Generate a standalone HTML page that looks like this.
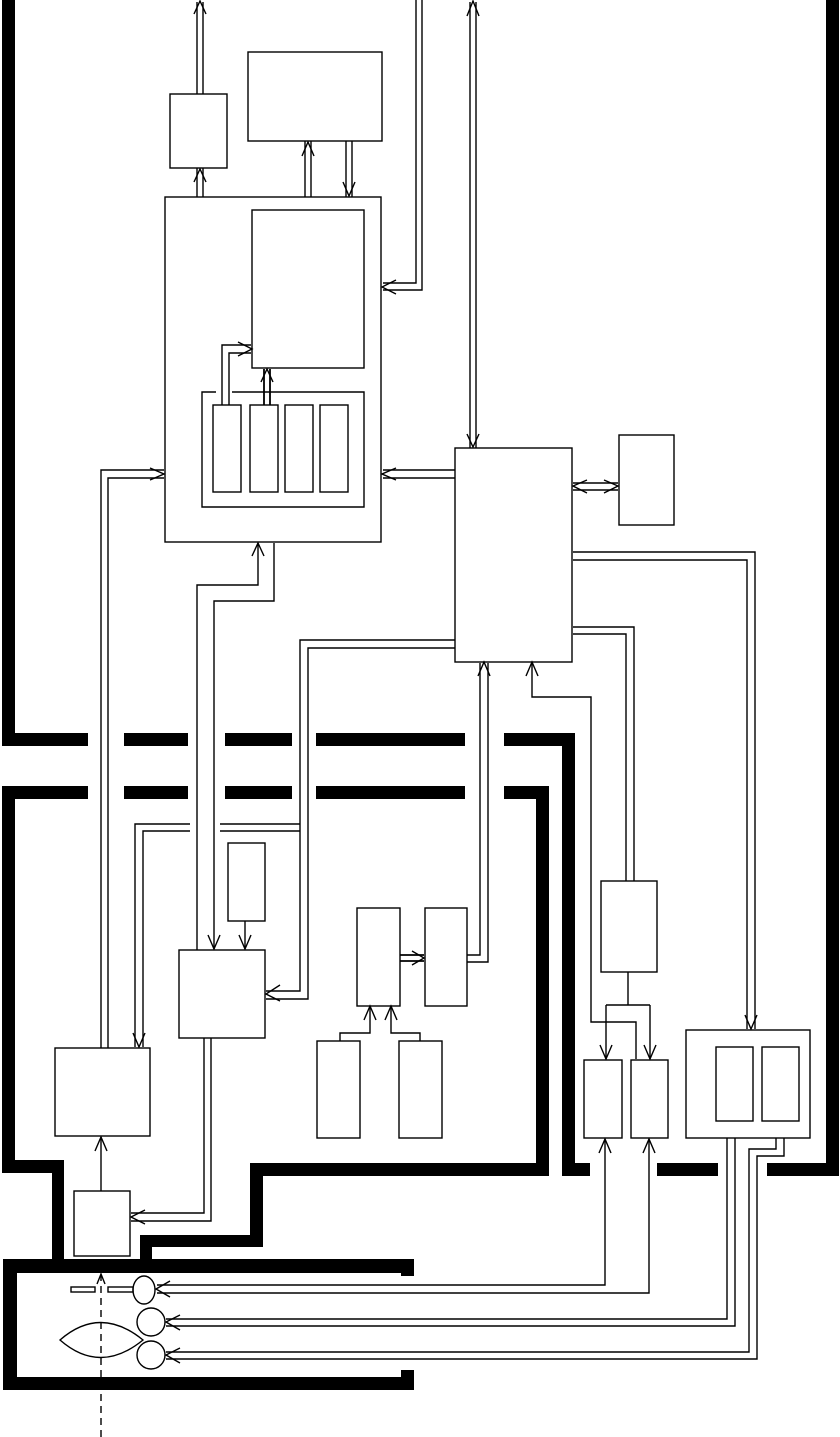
<!DOCTYPE html>
<html><head><meta charset="utf-8"><style>html,body{margin:0;padding:0;background:#fff}svg{display:block}</style></head>
<body>
<svg width="840" height="1437" viewBox="0 0 840 1437" xmlns="http://www.w3.org/2000/svg">
<g fill="#000" stroke="none">
<rect x="2" y="0" width="13" height="746"/>
<rect x="2" y="733" width="86" height="13"/>
<rect x="124" y="733" width="64" height="13"/>
<rect x="225" y="733" width="67" height="13"/>
<rect x="316" y="733" width="149" height="13"/>
<rect x="504" y="733" width="71" height="13"/>
<rect x="562" y="733" width="13" height="443"/>
<rect x="562" y="1163" width="28" height="13"/>
<rect x="657" y="1163" width="61" height="13"/>
<rect x="767" y="1163" width="72" height="13"/>
<rect x="826" y="0" width="13" height="1176"/>
<rect x="2" y="786" width="86" height="13"/>
<rect x="124" y="786" width="64" height="13"/>
<rect x="225" y="786" width="67" height="13"/>
<rect x="316" y="786" width="149" height="13"/>
<rect x="504" y="786" width="45" height="13"/>
<rect x="536" y="786" width="13" height="390"/>
<rect x="250" y="1163" width="299" height="13"/>
<rect x="250" y="1163" width="13" height="84"/>
<rect x="140" y="1235" width="123" height="12"/>
<rect x="140" y="1235" width="12" height="30"/>
<rect x="2" y="786" width="13" height="387"/>
<rect x="2" y="1160" width="62" height="13"/>
<rect x="52" y="1160" width="12" height="105"/>
<rect x="3" y="1259" width="411" height="14"/>
<rect x="401" y="1259" width="13" height="17"/>
<rect x="3" y="1259" width="14" height="131"/>
<rect x="3" y="1377" width="411" height="13"/>
<rect x="401" y="1370" width="13" height="20"/>
</g>
<g fill="none" stroke="#000" stroke-width="1.4">
<rect x="170" y="94" width="57" height="74"/>
<rect x="248" y="52" width="134" height="89"/>
<rect x="165" y="197" width="216" height="345"/>
<rect x="252" y="210" width="112" height="158"/>
<path d="M216,392 H202 V507 H364 V392 H232"/>
<rect x="213" y="405" width="28" height="87"/>
<rect x="250" y="405" width="28" height="87"/>
<rect x="285" y="405" width="28" height="87"/>
<rect x="320" y="405" width="28" height="87"/>
<rect x="455" y="448" width="117" height="214"/>
<rect x="619" y="435" width="55" height="90"/>
<rect x="228" y="843" width="37" height="78"/>
<rect x="179" y="950" width="86" height="88"/>
<rect x="357" y="908" width="43" height="98"/>
<rect x="425" y="908" width="42" height="98"/>
<rect x="317" y="1041" width="43" height="97"/>
<rect x="399" y="1041" width="43" height="97"/>
<rect x="601" y="881" width="56" height="91"/>
<rect x="584" y="1060" width="38" height="78"/>
<rect x="631" y="1060" width="37" height="78"/>
<rect x="686" y="1030" width="124" height="108"/>
<rect x="716" y="1047" width="37" height="74"/>
<rect x="762" y="1047" width="37" height="74"/>
<rect x="55" y="1048" width="95" height="88"/>
<rect x="74" y="1191" width="56" height="65"/>

<path d="M197,94 V2 M203,94 V2"/><path d="M194,14 L200,1 L206,14"/>
<path d="M197,197 V168 M203,197 V168"/><path d="M194,182 L200,169 L206,182"/>
<path d="M305,197 V141 M311,197 V141"/><path d="M302,156 L308,142 L314,156"/>
<path d="M346,141 V197 M352,141 V197"/><path d="M343,182 L349,196 L355,182"/>
<path d="M416,0 V283 H383 M422,0 V290 H383"/><path d="M396,280 L382,287 L396,294"/>
<path d="M470,2 V448 M476,2 V448"/><path d="M467,16 L473,1 L479,16 M467,434 L473,447 L479,434"/>
<path d="M455,470 H383 M455,478 H383"/><path d="M396,468 L382,474 L396,480"/>
<path d="M573,483 H618 M573,490 H618"/><path d="M587,480 L573,486 L587,493 M604,480 L618,486 L604,493"/>
<path d="M101,1048 V470 H164 M108,1048 V478 H164"/><path d="M150,468 L164,474 L150,480"/>
<path d="M258,543 V585 H197 V950 M274,543 V601 H214 V949"/><path d="M252,556 L258,543 L264,556"/><path d="M208,935 L214,949 L220,935"/>
<path d="M245,921 V949"/><path d="M239,935 L245,949 L251,935"/>
<path d="M455,640 H300 V991 H266 M455,648 H308 V999 H266"/><path d="M280,985 L266,994 L280,1001"/>
<path d="M300,824 H220 M190,824 H135 V1047 M300,831 H220 M190,831 H143 V1047"/><path d="M133,1033 L139,1047 L145,1033"/>
<path d="M400,955 H424 M400,961 H424" stroke-width="1.8"/><path d="M412,951 L424,958 L412,965"/>
<path d="M467,955 H480 V663 M467,962 H488 V663"/><path d="M478,676 L484,662 L490,676"/>
<path d="M340,1041 V1033 H370 V1007 M420,1041 V1033 H391 V1007"/><path d="M364,1020 L370,1006 L376,1020 M385,1020 L391,1006 L397,1020"/>
<path d="M532,663 V697 H591 V1022 H636 V1059"/><path d="M526,676 L532,662 L538,676"/>
<path d="M628,972 V1005 M606,1005 H650 M606,1005 V1059 M650,1005 V1059"/><path d="M600,1045 L606,1059 L612,1045 M644,1045 L650,1059 L656,1045"/>
<path d="M573,627 H634 V881 M573,634 H626 V881"/>
<path d="M573,552 H755 V1029 M573,560 H747 V1029"/><path d="M745,1015 L751,1029 L757,1015"/>
<path d="M605,1139 V1285 H157 M649,1139 V1293 H157"/><path d="M599,1153 L605,1139 L611,1153 M643,1153 L649,1139 L655,1153"/><path d="M170,1281 L156,1289 L170,1297"/>
<path d="M727,1138 V1319 H166 M735,1138 V1326 H166"/><path d="M180,1315 L166,1322 L180,1330"/>
<path d="M776,1138 V1149 H749 V1352 H166 M784,1138 V1156 H757 V1359 H166"/><path d="M180,1348 L166,1355 L180,1363"/>
<path d="M101,1191 V1137"/><path d="M95,1151 L101,1137 L107,1151"/>
<path d="M204,1038 V1213 H131 M211,1038 V1221 H131"/><path d="M145,1210 L131,1217 L145,1224"/>
<path d="M222,405 V345 H251 M229,405 V353 H251"/><path d="M238,342 L252,349 L238,356"/>
<path d="M264,405 V369 M270,405 V369" stroke-width="1.8"/><path d="M261,382 L267,369 L273,382"/>
<ellipse cx="144" cy="1290" rx="11" ry="14"/>
<ellipse cx="151" cy="1322" rx="14" ry="14"/>
<ellipse cx="151" cy="1355" rx="14" ry="14"/>
<path d="M60,1340 Q100,1305 143,1340 Q100,1375 60,1340 Z"/>
<rect x="71" y="1287" width="24" height="5"/>
<rect x="108" y="1287" width="25" height="5"/>
<path d="M101,1437 V1275" stroke-dasharray="7,5"/><path d="M97,1284 L101,1274 L105,1284"/>
</g>
</svg>
</body></html>
